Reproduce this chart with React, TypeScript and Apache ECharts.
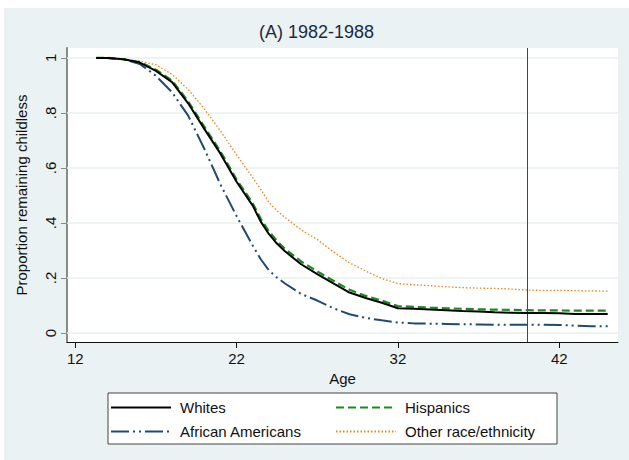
import React, { useEffect, useRef } from "react";
import * as echarts from "echarts";

const ages = [13.3, 14, 15, 16, 17, 18, 19, 20, 21, 22, 23, 23.5, 24, 24.5, 25, 26, 27, 28, 29, 30, 31, 32, 33, 34, 35, 36, 37, 38, 39, 40, 41, 42, 43, 44, 45];
const whites = [1, 1, 0.995, 0.983, 0.953, 0.912, 0.835, 0.742, 0.652, 0.55, 0.463, 0.405, 0.36, 0.325, 0.297, 0.25, 0.214, 0.18, 0.147, 0.127, 0.11, 0.09, 0.088, 0.085, 0.083, 0.08, 0.078, 0.075, 0.074, 0.073, 0.073, 0.072, 0.069, 0.069, 0.069];
const hispanics = [1, 1, 0.995, 0.985, 0.957, 0.918, 0.842, 0.75, 0.66, 0.558, 0.472, 0.415, 0.37, 0.335, 0.306, 0.26, 0.224, 0.19, 0.157, 0.135, 0.118, 0.098, 0.095, 0.092, 0.09, 0.088, 0.086, 0.085, 0.084, 0.083, 0.082, 0.082, 0.081, 0.081, 0.081];
const africanAmericans = [1, 1, 0.995, 0.978, 0.935, 0.875, 0.79, 0.67, 0.54, 0.425, 0.318, 0.268, 0.228, 0.202, 0.18, 0.142, 0.118, 0.09, 0.068, 0.055, 0.046, 0.038, 0.035, 0.034, 0.033, 0.032, 0.031, 0.03, 0.03, 0.03, 0.03, 0.029, 0.027, 0.025, 0.025];
const otherRace = [1, 1, 0.996, 0.988, 0.975, 0.94, 0.885, 0.815, 0.735, 0.648, 0.565, 0.522, 0.475, 0.445, 0.42, 0.375, 0.34, 0.295, 0.255, 0.225, 0.198, 0.18, 0.175, 0.172, 0.168, 0.165, 0.163, 0.162, 0.16, 0.156, 0.155, 0.155, 0.154, 0.153, 0.152];

const xTicks = [12, 22, 32, 42];
const yTicks = [0, 0.2, 0.4, 0.6, 0.8, 1];
const yTickLabels = ["0", ".2", ".4", ".6", ".8", "1"];
const refAge = 40;

const FONT = "'Liberation Sans', Arial, sans-serif";

function pairs(vals: number[]) {
  return ages.map((a, i) => [a, vals[i]]);
}

export default function App() {
  const ref = useRef<HTMLDivElement>(null);
  useEffect(() => {
    if (!ref.current) return;
    const chart = echarts.init(ref.current, undefined, { renderer: "svg" });
    const legendCommon = {
      orient: "vertical" as const,
      itemWidth: 60,
      itemHeight: 14,
      itemGap: 9,
      itemStyle: { opacity: 0 },
      textStyle: { fontFamily: FONT, fontSize: 15, color: "#111", padding: [0, 0, 0, 4] },
      selectedMode: false,
    };
    const lineCommon = {
      type: "line" as const,
      showSymbol: false,
      symbol: "none",
    };
    chart.setOption({
      animation: false,
      backgroundColor: "#eaf2f3",
      title: {
        text: "(A) 1982-1988",
        left: "center",
        top: 10,
        textStyle: { fontFamily: FONT, fontSize: 18, fontWeight: "normal", color: "#1e2a40" },
      },
      grid: {
        left: 63,
        right: 11,
        top: 40,
        bottom: 118,
        show: true,
        backgroundColor: "#ffffff",
        borderWidth: 0,
      },
      xAxis: {
        type: "value",
        min: 11.49,
        max: 45.64,
        name: "Age",
        nameLocation: "middle",
        nameGap: 27,
        nameTextStyle: { fontFamily: FONT, fontSize: 15, color: "#111" },
        axisLine: { show: true, onZero: false, lineStyle: { color: "#111", width: 1 } },
        axisTick: { show: true, length: 6, customValues: xTicks, lineStyle: { color: "#111" } },
        axisLabel: { customValues: xTicks, fontFamily: FONT, fontSize: 15, color: "#111", margin: 9 },
        splitLine: { show: false },
      },
      yAxis: {
        type: "value",
        min: -0.0327,
        max: 1.036,
        name: "Proportion remaining childless",
        nameLocation: "middle",
        nameGap: 38,
        nameTextStyle: { fontFamily: FONT, fontSize: 15, color: "#111" },
        axisLine: { show: true, lineStyle: { color: "#8a8a8a", width: 2 } },
        axisTick: { show: true, length: 6, customValues: yTicks, lineStyle: { color: "#8a8a8a" } },
        axisLabel: {
          customValues: yTicks,
          rotate: 90,
          fontFamily: FONT,
          fontSize: 15,
          color: "#111",
          margin: 9,
          formatter: (v: number) => {
            const i = yTicks.findIndex((t) => Math.abs(t - v) < 1e-6);
            return i >= 0 ? yTickLabels[i] : "";
          },
        },
        splitLine: { show: false },
      },
      legend: [
        {
          ...legendCommon,
          left: 101,
          top: 387,
          data: ["Whites", "African Americans"],
        },
        {
          ...legendCommon,
          left: 326,
          top: 387,
          data: ["Hispanics", "Other race/ethnicity"],
        },
      ],
      graphic: [
        {
          type: "rect",
          shape: { x: 104, y: 385, width: 449, height: 51 },
          style: { fill: "#ffffff", stroke: "#444", lineWidth: 1 },
          z: -1,
        },
      ],
      series: [
        {
          ...lineCommon,
          name: "Other race/ethnicity",
          data: pairs(otherRace),
          lineStyle: { color: "#e8861a", width: 1.3, type: [1.5, 2] },
          itemStyle: { color: "#e8861a" },
          z: 3,
          markLine: {
            silent: true,
            symbol: "none",
            label: { show: false },
            lineStyle: { color: "#e8eff0", width: 1.5, type: "solid" },
            data: yTicks.map((t) => ({ yAxis: t })),
            z: 1,
          },
        },
        {
          ...lineCommon,
          name: "African Americans",
          data: pairs(africanAmericans),
          lineStyle: { color: "#1f4a74", width: 2, type: [18, 4, 2, 4, 2, 4] },
          itemStyle: { color: "#1f4a74" },
          z: 4,
        },
        {
          ...lineCommon,
          name: "Hispanics",
          data: pairs(hispanics),
          lineStyle: { color: "#1a8c1a", width: 2.2, type: [8, 4] },
          itemStyle: { color: "#1a8c1a" },
          z: 5,
        },
        {
          ...lineCommon,
          name: "Whites",
          data: pairs(whites),
          lineStyle: { color: "#000000", width: 2 },
          itemStyle: { color: "#000000" },
          z: 6,
          markLine: {
            silent: true,
            symbol: "none",
            label: { show: false },
            lineStyle: { color: "#a3173c", width: 1, type: "solid" },
            data: [{ xAxis: refAge }],
          },
        },
      ],
    });
    return () => chart.dispose();
  }, []);
  return (
    <div style={{ position: "absolute", left: 0, top: 0, width: 629, height: 460, background: "#fff" }}>
      <div ref={ref} style={{ position: "absolute", left: 4, top: 8, width: 625, height: 452 }} />
    </div>
  );
}
